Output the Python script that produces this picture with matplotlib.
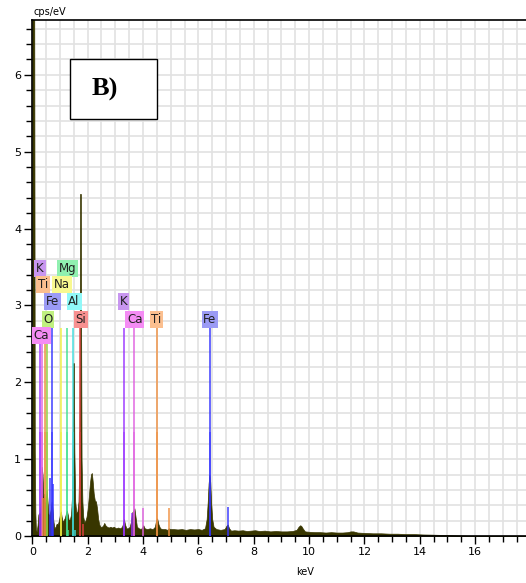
import numpy as np
import matplotlib
matplotlib.use('Agg')
import matplotlib.pyplot as plt
from matplotlib.patches import Rectangle
from matplotlib.ticker import MultipleLocator

# spectrum (keV, cps/eV)
energy = [0.00, 0.03, 0.07, 0.09, 0.11, 0.13, 0.16, 0.19, 0.22, 0.25, 0.28,
          0.31, 0.34, 0.37, 0.40, 0.43, 0.46, 0.49, 0.52, 0.55, 0.58, 0.61,
          0.64, 0.67, 0.70, 0.73, 0.76, 0.80, 0.84, 0.88, 0.92, 0.96, 1.00,
          1.03, 1.06, 1.10, 1.14, 1.18, 1.22, 1.25, 1.28, 1.32, 1.36, 1.40,
          1.44, 1.46, 1.48, 1.50, 1.52, 1.55, 1.59, 1.63, 1.67, 1.70, 1.715,
          1.725, 1.755, 1.765, 1.78, 1.81, 1.84, 1.88, 1.92, 1.96, 2.00, 2.04,
          2.08, 2.12, 2.15, 2.18, 2.22, 2.26, 2.30, 2.34, 2.38, 2.42, 2.46,
          2.50, 2.55, 2.60, 2.64, 2.70, 2.76, 2.82, 2.88, 2.95, 3.02, 3.10,
          3.18, 3.24, 3.28, 3.31, 3.35, 3.40, 3.46, 3.52, 3.56, 3.60, 3.65,
          3.69, 3.73, 3.78, 3.85, 3.92, 3.97, 4.01, 4.06, 4.15, 4.25, 4.35,
          4.43, 4.47, 4.51, 4.56, 4.62, 4.70, 4.80, 4.88, 4.93, 4.98, 5.10,
          5.25, 5.40, 5.55, 5.70, 5.85, 6.00, 6.12, 6.24, 6.30, 6.34, 6.37,
          6.40, 6.43, 6.46, 6.50, 6.55, 6.65, 6.80, 6.95, 7.01, 7.06, 7.11,
          7.18, 7.30, 7.45, 7.60, 7.75, 7.90, 8.05, 8.20, 8.40, 8.60, 8.80,
          9.00, 9.20, 9.40, 9.55, 9.62, 9.68, 9.72, 9.77, 9.85, 10.0, 10.2,
          10.4, 10.6, 10.8, 11.0, 11.2, 11.4, 11.5, 11.6, 11.75, 12.0, 12.3,
          12.6, 12.9, 13.2, 13.5, 13.8, 14.1, 14.4, 14.7, 15.0, 15.3, 15.6,
          15.8, 17.9]
cps = [6.90, 6.90, 6.90, 1.10, 0.30, 0.08, 0.06, 0.14, 0.28, 0.30, 0.26,
       0.50, 0.90, 0.80, 0.52, 0.55, 0.40, 0.45, 0.60, 0.45, 0.30, 0.25,
       0.30, 0.35, 0.45, 0.35, 0.20, 0.10, 0.12, 0.16, 0.15, 0.20, 0.28,
       0.32, 0.25, 0.18, 0.21, 0.24, 0.30, 0.33, 0.28, 0.20, 0.22, 0.28,
       0.55, 1.30, 2.25, 2.25, 1.10, 0.45, 0.30, 0.32, 0.45, 1.00, 2.60,
       4.45, 4.45, 2.60, 1.00, 0.45, 0.25, 0.18, 0.20, 0.25, 0.35, 0.50,
       0.68, 0.80, 0.82, 0.72, 0.55, 0.46, 0.45, 0.36, 0.22, 0.15, 0.12,
       0.12, 0.13, 0.17, 0.14, 0.12, 0.11, 0.12, 0.11, 0.12, 0.10, 0.11,
       0.10, 0.12, 0.16, 0.22, 0.15, 0.10, 0.10, 0.12, 0.18, 0.30, 0.33,
       0.36, 0.25, 0.12, 0.10, 0.09, 0.11, 0.14, 0.10, 0.09, 0.10, 0.09,
       0.12, 0.20, 0.23, 0.15, 0.10, 0.09, 0.09, 0.08, 0.10, 0.09, 0.09,
       0.085, 0.09, 0.08, 0.09, 0.085, 0.09, 0.08, 0.10, 0.22, 0.45, 0.68,
       0.80, 0.70, 0.45, 0.22, 0.12, 0.09, 0.08, 0.09, 0.13, 0.15, 0.10,
       0.07, 0.075, 0.07, 0.075, 0.065, 0.07, 0.075, 0.065, 0.07, 0.06, 0.065,
       0.06, 0.06, 0.065, 0.08, 0.12, 0.14, 0.13, 0.10, 0.06, 0.055, 0.05,
       0.05, 0.045, 0.05, 0.045, 0.045, 0.05, 0.06, 0.06, 0.045, 0.04, 0.035,
       0.035, 0.03, 0.03, 0.025, 0.025, 0.02, 0.018, 0.015, 0.012, 0.008, 0.005,
       0.0, 0.0]

# element markers: energy, colour
main_keV = [0.277, 0.341, 0.452, 0.525, 0.705, 1.041, 1.254, 1.487, 1.740,
            3.313, 3.691, 4.510, 6.403]
main_col = ['#9933ff', '#e060e0', '#f09040', '#90d040', '#3333ff', '#f0f040',
            '#40e090', '#40dede', '#e04040', '#9933ff', '#e060e0', '#f09040',
            '#3333ff']
minor_keV = [0.40, 0.63, 0.75, 1.302, 1.557, 1.836, 3.59, 4.012, 4.932, 7.058]
minor_h = [0.50, 0.76, 0.68, 0.08, 0.08, 0.15, 0.30, 0.36, 0.36, 0.38]
minor_col = ['#f09040', '#3333ff', '#3333ff', '#40e090', '#40dede', '#e04040',
             '#9933ff', '#e060e0', '#f09040', '#3333ff']

labels = ['K', 'Mg', 'Ti', 'Na', 'Fe', 'Al', 'O', 'Si', 'Ca',
          'K', 'Ca', 'Ti', 'Fe']
label_keV = [0.28, 1.27, 0.39, 1.07, 0.73, 1.51, 0.57, 1.76, 0.33,
             3.31, 3.71, 4.49, 6.42]
label_y = [3.48, 3.48, 3.27, 3.27, 3.05, 3.05, 2.82, 2.82, 2.61,
           3.05, 2.82, 2.82, 2.82]
label_col = ['#c896f0', '#90f0b0', '#fbbf8f', '#f8f890', '#9b9bf5', '#90f8f8',
             '#c0f080', '#f89090', '#f48cf4', '#c896f0', '#f48cf4', '#fbbf8f',
             '#9b9bf5']

plt.rcParams['font.family'] = ['DejaVu Sans']

fig = plt.figure(figsize=(5.26, 5.83), dpi=100)
ax = fig.add_axes([32.3 / 526, 47 / 583, 494 / 526, 516.5 / 583])

ax.fill_between(energy, cps, 0, color='#383600', lw=0.5,
                edgecolor='#383600', zorder=2)
ax.vlines(main_keV, 0, 2.7, colors=main_col, lw=1.3, alpha=0.8, zorder=3)
ax.vlines(main_keV, 0, 1.35, colors=main_col, lw=1.3, alpha=0.6, zorder=3)
ax.vlines(minor_keV, 0, minor_h, colors=minor_col, lw=1.3, alpha=0.8, zorder=3)

for t, x, y, c in zip(labels, label_keV, label_y, label_col):
    ax.text(x, y, t, ha='center', va='center', fontsize=8.5, color='#202020',
            zorder=4, bbox=dict(boxstyle='square,pad=0.15', fc=c, ec='none'))

ax.set_xlim(0, 17.85)
ax.set_ylim(0, 6.72)
ax.xaxis.set_major_locator(MultipleLocator(2))
ax.xaxis.set_minor_locator(MultipleLocator(0.5))
ax.yaxis.set_major_locator(MultipleLocator(1))
ax.yaxis.set_minor_locator(MultipleLocator(0.2))
ax.grid(which='both', color='#e2e2e2', lw=1.2)
ax.set_axisbelow(True)
ax.tick_params(which='major', length=6, width=1, labelsize=8, pad=2)
ax.tick_params(which='minor', length=4, width=1)
ax.spines['right'].set_visible(False)
for s in ['left', 'bottom', 'top']:
    ax.spines[s].set_linewidth(1.2)

ax.add_patch(Rectangle((0.076, 0.807), 0.176, 0.1165, transform=ax.transAxes,
                       fc='white', ec='black', lw=1, zorder=5))
ax.text(0.147, 0.865, 'B)', transform=ax.transAxes, ha='center', va='center',
        fontsize=19, fontweight='bold', family='Liberation Serif', zorder=6)

fig.text(33 / 526, 1 - 12 / 583, 'cps/eV', ha='left', va='center', fontsize=7)
fig.text(305 / 526, 1 - 572 / 583, 'keV', ha='center', va='center', fontsize=7)

fig.savefig('out.png', dpi=100)
